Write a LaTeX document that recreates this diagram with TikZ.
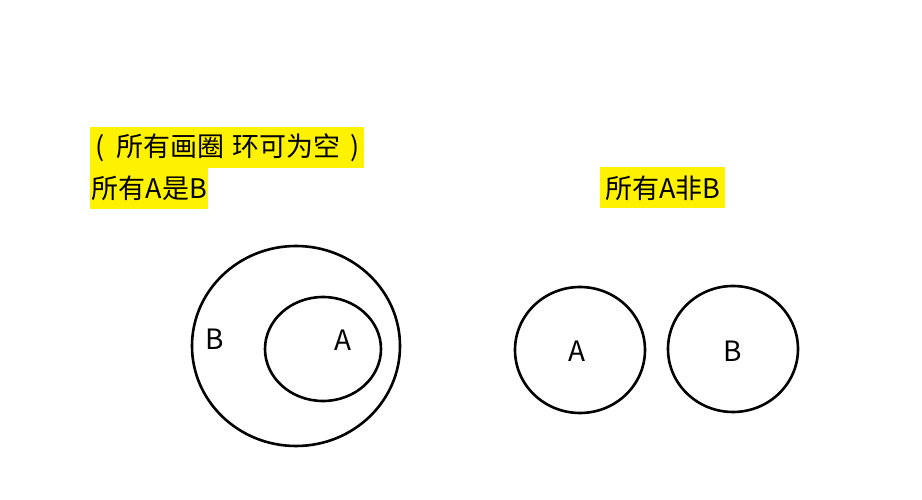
\documentclass[tikz,border=0pt]{standalone}
\usepackage{fontspec}
\setmainfont{Noto Sans CJK SC}
\begin{document}
\begin{tikzpicture}[x=1pt,y=-1pt,
  hl/.style={fill=yellow,inner ysep=0pt,minimum height=41pt,anchor=west,font=\fontsize{27}{30}\selectfont},
  ring/.style={draw=black,line width=2.6pt},
  lbl/.style={font=\fontsize{28}{30}\selectfont,inner sep=0pt}]
\useasboundingbox[fill=white] (0,0) rectangle (922,500);
\node[hl,inner xsep=5pt] (t1) at (90,147.5) {(\hspace{12pt}所有画圈\hspace{8pt}环可为空\hspace{10pt})};
\node[hl,inner xsep=1.5pt] (t2) at (90,188.5) {所有A是B};
\node[hl,inner xsep=5pt] (t3) at (600,188) {所有A非B};
\draw[ring] (296,346) ellipse [x radius=104, y radius=100];
\draw[ring] (323,349) ellipse [x radius=58, y radius=52];
\node[lbl] (lb1) at (215,339) {B};
\node[lbl] (la1) at (343,340) {A};
\draw[ring] (580,350) ellipse [x radius=65, y radius=63];
\draw[ring] (733,349) ellipse [x radius=65, y radius=63];
\node[lbl] (la2) at (577,351) {A};
\node[lbl] (lb2) at (733,351) {B};
\end{tikzpicture}
\end{document}
